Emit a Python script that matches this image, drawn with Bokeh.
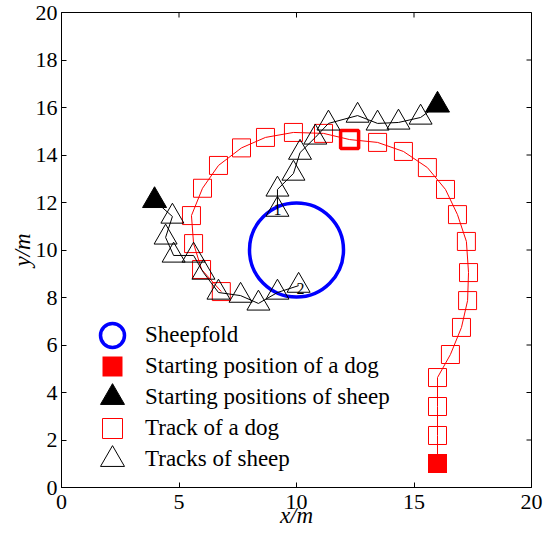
import math
from bokeh.plotting import figure
from bokeh.models import Range1d, FixedTicker, Legend, LegendItem
from bokeh.core.properties import value
from bokeh.embed import file_html
from bokeh.resources import INLINE

# ---- data ----
fold_x = [10.0]
fold_y = [10.0]
fold_r = [2.0]

dog_x = [16.0, 16.0, 16.0, 16.0, 16.55, 17.02, 17.28, 17.32, 17.23, 16.85, 16.34, 15.57,
         14.55, 13.45, 12.26, 11.15, 9.87, 8.68, 7.66, 6.68, 6.0, 5.53, 5.62, 5.96, 6.8]
dog_y = [1.01, 2.19, 3.41, 4.63, 5.6, 6.74, 7.87, 9.05, 10.36, 11.49, 12.55, 13.47,
         14.15, 14.53, 14.65, 14.91, 14.95, 14.74, 14.3, 13.56, 12.6, 11.45, 10.27, 9.18, 8.25]
dog_bold_index = 14

sheep1_x = [16.0, 15.28, 14.34, 13.45, 12.6, 11.36, 10.8, 10.15, 9.87, 9.19, 9.19]
sheep1_y = [16.1, 15.58, 15.37, 15.33, 15.66, 15.33, 14.74, 14.1, 13.22, 12.55, 11.7]
sheep2_x = [3.96, 4.72, 4.43, 4.77, 5.62, 6.04, 6.68, 7.62, 8.38, 9.19, 10.09]
sheep2_y = [12.08, 11.41, 10.53, 9.77, 9.77, 9.05, 8.21, 8.08, 7.75, 8.21, 8.5]
sheep_labels = ["1", "2"]

x_ticks = [0, 5, 10, 15, 20]
y_ticks = [0, 2, 4, 6, 8, 10, 12, 14, 16, 18, 20]
x_lim = (0, 20)
y_lim = (0, 20)
legend_labels = ["Sheepfold", "Starting position of a dog", "Starting positions of sheep",
                 "Track of a dog", "Tracks of sheep"]

FONT = "Liberation Serif"

p = figure(width=545, height=536, x_range=Range1d(*x_lim), y_range=Range1d(*y_lim),
           output_backend="svg", toolbar_location=None,
           min_border_left=61, min_border_right=14, min_border_top=12, min_border_bottom=49)
p.grid.visible = False
p.outline_line_color = "black"
p.outline_line_width = 1
p.background_fill_color = "white"

for ax in p.xaxis + p.yaxis:
    ax.major_tick_in = 5
    ax.major_tick_out = 0
    ax.minor_tick_line_color = None
    ax.axis_line_color = "black"
    ax.major_tick_line_color = "black"
    ax.major_label_text_font = FONT
    ax.major_label_text_font_size = "22px"
    ax.major_label_text_color = "black"
    ax.axis_label_text_font = FONT
    ax.axis_label_text_font_size = "23px"
    ax.axis_label_text_font_style = "italic"
    ax.axis_label_text_color = "black"

p.xaxis.ticker = FixedTicker(ticks=x_ticks)
p.yaxis.ticker = FixedTicker(ticks=y_ticks)
p.xaxis.axis_label = "x/m"
p.yaxis.axis_label = "y/m"
p.xaxis.major_label_standoff = 7
p.yaxis.major_label_standoff = 4
p.xaxis.axis_label_standoff = -9
p.yaxis.axis_label_standoff = -2

# mirrored inward ticks on top and right (dash markers clipped by the frame)
p.scatter(x_ticks, [y_lim[1]] * len(x_ticks), marker="dash", size=10, angle=math.pi / 2,
          line_color="black", line_width=1)
p.scatter([x_lim[1]] * len(y_ticks), y_ticks, marker="dash", size=10,
          line_color="black", line_width=1)

# sheepfold
fold = p.circle(x=fold_x, y=fold_y, radius=fold_r, fill_color=None,
                line_color="#0000ff", line_width=3.5)

# dog
p.line(dog_x, dog_y, line_color="#ff0000", line_width=1)
dog_track = p.scatter(dog_x[1:], dog_y[1:], marker="square", size=18, fill_color=None,
                      line_color="#ff0000", line_width=1)
p.scatter([dog_x[dog_bold_index]], [dog_y[dog_bold_index]], marker="square", size=18,
          fill_color=None, line_color="#ff0000", line_width=3.5)
dog_start = p.scatter([dog_x[0]], [dog_y[0]], marker="square", size=19, fill_color="#ff0000",
                      line_color=None)

# sheep
p.line(sheep1_x, sheep1_y, line_color="black", line_width=1)
p.line(sheep2_x, sheep2_y, line_color="black", line_width=1)
sheep_track = p.scatter(sheep1_x[1:] + sheep2_x[1:], sheep1_y[1:] + sheep2_y[1:],
                        marker="triangle", size=23, fill_color=None, line_color="black",
                        line_width=1)
sheep_start = p.scatter([sheep1_x[0], sheep2_x[0]], [sheep1_y[0], sheep2_y[0]],
                        marker="triangle", size=24, fill_color="black", line_color="black")

p.text(x=[sheep1_x[-1], sheep2_x[-1]], y=[sheep1_y[-1], sheep2_y[-1]], text=sheep_labels,
       text_align="center", text_baseline="middle", text_font=value(FONT),
       text_font_size="16px", text_color="black", x_offset=[0, 2], y_offset=[0, 3])

# legend: one single-item legend per row so that each row can carry its own glyph size
legend_renderers = [fold, dog_start, sheep_start, dog_track, sheep_track]
legend_glyph = [60, 50, 60, 50, 60]
row_pitch = 31
first_row_center = 152
glyph_center_x = 51
label_left = 84
for i, (lab, rend, g) in enumerate(zip(legend_labels, legend_renderers, legend_glyph)):
    cy = first_row_center - i * row_pitch
    lx = glyph_center_x - g / 2
    lg = Legend(items=[LegendItem(label=lab, renderers=[rend])],
                location=(lx, cy - g / 2), padding=0, spacing=0,
                glyph_width=g, glyph_height=g, label_height=g,
                label_standoff=int(round(label_left - lx - g)),
                border_line_color=None, background_fill_alpha=0,
                label_text_font=FONT, label_text_font_size="23px",
                label_text_color="black")
    p.add_layout(lg)

open("out.html", "w").write(file_html(p, INLINE))
